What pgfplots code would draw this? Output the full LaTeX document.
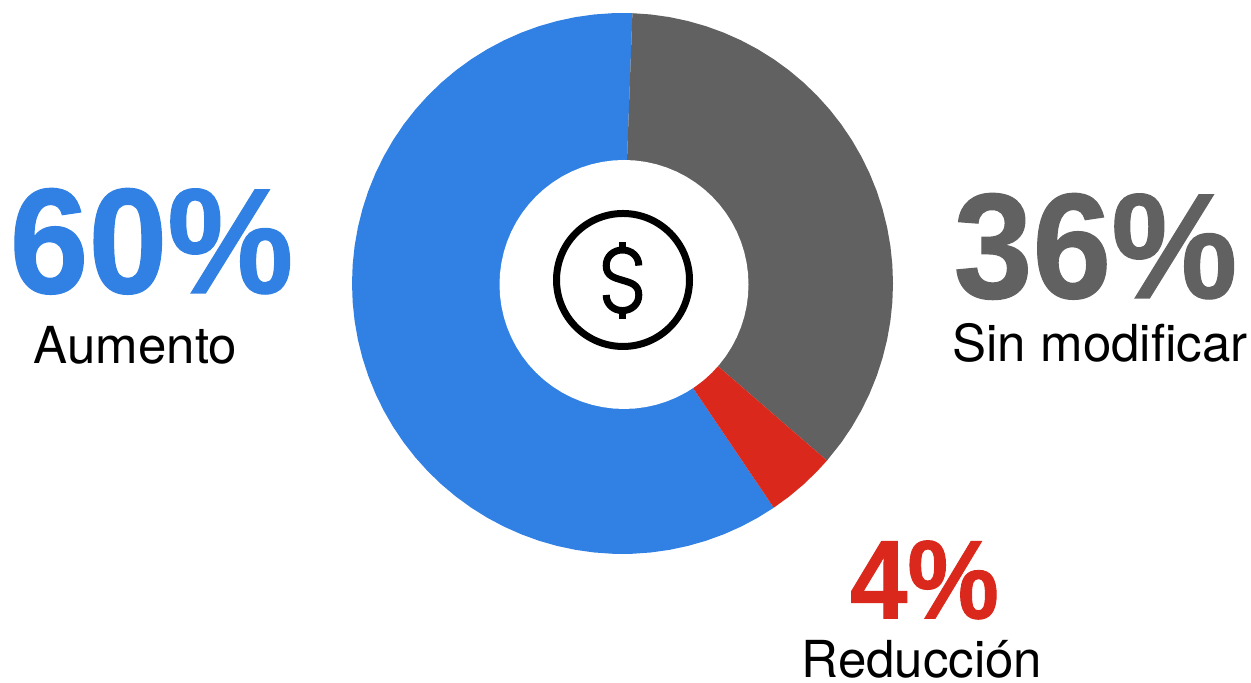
\documentclass[border=0pt]{standalone}
\usepackage{pgfplots}
\usepackage{fontspec}
\setmainfont{TeX Gyre Heros}
\newfontfamily\numfont[FakeStretch=0.945,FakeBold=0.8]{Liberation Sans Bold}
\newfontfamily\numfontb[FakeStretch=0.92,FakeBold=0.8]{Liberation Sans Bold}
\usepgfplotslibrary{polar}
\pgfplotsset{compat=1.18}
\definecolor{azul}{HTML}{3181E4}
\definecolor{gris}{HTML}{616161}
\definecolor{rojo}{HTML}{DA291C}
\begin{document}
\begin{tikzpicture}
\begin{axis}[
  scale only axis, width=1251pt, height=683pt,
  xmin=-622.5, xmax=628.5, ymin=-399.5, ymax=283.5,
  hide axis, clip=false
]
  \path (rel axis cs:0,0) rectangle (rel axis cs:1,1);
  % slices as angle / radius, centre at origin
  \addplot[data cs=polar, fill=azul, draw=none] coordinates {
    (0,0) (-56,270.5) (-60,270.5) (-64,270.5) (-68,270.5) (-72,270.5) (-76,270.5) (-80,270.5) (-84,270.5) (-88,270.5)
    (-92,270.5) (-96,270.5) (-100,270.5) (-104,270.5) (-108,270.5) (-112,270.5) (-116,270.5) (-120,270.5) (-124,270.5)
    (-128,270.5) (-132,270.5) (-136,270.5) (-140,270.5) (-144,270.5) (-148,270.5) (-152,270.5) (-156,270.5) (-160,270.5)
    (-164,270.5) (-168,270.5) (-172,270.5) (-176,270.5) (-180,270.5) (-184,270.5) (-188,270.5) (-192,270.5) (-196,270.5)
    (-200,270.5) (-204,270.5) (-208,270.5) (-212,270.5) (-216,270.5) (-220,270.5) (-224,270.5) (-228,270.5) (-232,270.5)
    (-236,270.5) (-240,270.5) (-244,270.5) (-248,270.5) (-252,270.5) (-256,270.5) (-260,270.5) (-264,270.5) (-268,270.5)
    (-272.1,270.5) (0,0)
  };
  \addplot[data cs=polar, fill=gris, draw=none] coordinates {
    (0,0) (87.9,270.5) (84,270.5) (80,270.5) (76,270.5) (72,270.5) (68,270.5) (64,270.5) (60,270.5) (56,270.5) (52,270.5)
    (48,270.5) (44,270.5) (40,270.5) (36,270.5) (32,270.5) (28,270.5) (24,270.5) (20,270.5) (16,270.5) (12,270.5) (8,270.5)
    (4,270.5) (0,270.5) (-4,270.5) (-8,270.5) (-12,270.5) (-16,270.5) (-20,270.5) (-24,270.5) (-28,270.5) (-32,270.5)
    (-36,270.5) (-40.9,270.5) (0,0)
  };
  \addplot[data cs=polar, fill=rojo, draw=none] coordinates {
    (0,0) (-40.9,270.5) (-44,270.5) (-48,270.5) (-52,270.5) (-56,270.5) (0,0)
  };
  % hole
  \addplot[data cs=polar, fill=white, draw=none, shift={(axis direction cs:1.5,-1)}] coordinates {
    (0,124.5) (5,124.5) (10,124.5) (15,124.5) (20,124.5) (25,124.5) (30,124.5) (35,124.5) (40,124.5) (45,124.5) (50,124.5) (55,124.5)
    (60,124.5) (65,124.5) (70,124.5) (75,124.5) (80,124.5) (85,124.5) (90,124.5) (95,124.5) (100,124.5) (105,124.5) (110,124.5) (115,124.5)
    (120,124.5) (125,124.5) (130,124.5) (135,124.5) (140,124.5) (145,124.5) (150,124.5) (155,124.5) (160,124.5) (165,124.5) (170,124.5) (175,124.5)
    (180,124.5) (185,124.5) (190,124.5) (195,124.5) (200,124.5) (205,124.5) (210,124.5) (215,124.5) (220,124.5) (225,124.5) (230,124.5) (235,124.5)
    (240,124.5) (245,124.5) (250,124.5) (255,124.5) (260,124.5) (265,124.5) (270,124.5) (275,124.5) (280,124.5) (285,124.5) (290,124.5) (295,124.5)
    (300,124.5) (305,124.5) (310,124.5) (315,124.5) (320,124.5) (325,124.5) (330,124.5) (335,124.5) (340,124.5) (345,124.5) (350,124.5) (355,124.5) (360,124.5)
  };
  % icon
  \draw[line width=7pt] (axis cs:0.5,3.5) circle[radius=66.5pt];
  \begin{scope}[shift={(axis cs:0,3.2)}, x=1pt, y=1pt, line width=7pt]
    \draw (16.3,14.7) .. controls (16.3,24) and (9,30.3) .. (0,30.3)
      .. controls (-9,30.3) and (-16.3,24) .. (-16.3,14.7)
      .. controls (-16.3,4) and (-8,2.5) .. (0,0)
      .. controls (8,-2.5) and (16.3,-4) .. (16.3,-14.7)
      .. controls (16.3,-24) and (9,-30.3) .. (0,-30.3)
      .. controls (-9,-30.3) and (-16.3,-24) .. (-16.3,-14.7);
    \draw (0,30.3) -- (0,38.7);
    \draw (0,-30.3) -- (0,-38.7);
  \end{scope}
  % labels (pixel positions relative to centre)
  \tikzset{every node/.style={inner sep=0pt, anchor=base}}
  \node[font=\numfont\fontsize{150}{150}\selectfont, text=azul] at (axis cs:-471,-9.5) {60\%};
  \node[font=\fontsize{51}{51}\selectfont] at (axis cs:-487,-80.5) {Aumento};
  \node[font=\numfont\fontsize{150}{150}\selectfont, text=gris] at (axis cs:473,-14.5) {36\%};
  \node[font=\fontsize{51}{51}\selectfont] at (axis cs:477.5,-78.5) {Sin modificar};
  \node[font=\numfontb\fontsize{112}{112}\selectfont, text=rojo] at (axis cs:302,-335) {4\%};
  \node[font=\fontsize{51}{51}\selectfont] at (axis cs:299.5,-394.5) {Reducción};
\end{axis}
\end{tikzpicture}
\end{document}
